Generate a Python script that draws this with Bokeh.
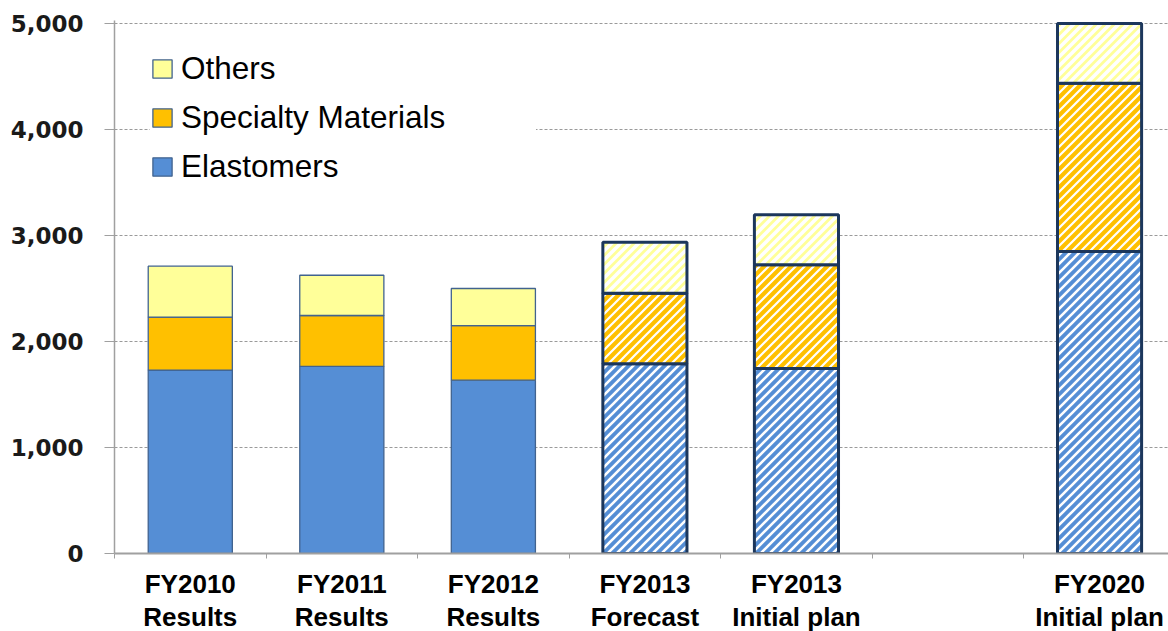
from urllib.parse import quote
from bokeh.plotting import figure
from bokeh.models import (Range1d, FixedTicker, NumeralTickFormatter, Legend, LegendItem,
                          ColumnDataSource, ImageURLTexture)
from bokeh.core.properties import value
from bokeh.embed import file_html
from bokeh.resources import INLINE

# ---- data ----
categories = ["FY2010\nResults", "FY2011\nResults", "FY2012\nResults",
              "FY2013\nForecast", "FY2013\nInitial plan", "", "FY2020\nInitial plan"]
result_cats = ["FY2010\nResults", "FY2011\nResults", "FY2012\nResults"]
plan_cats = ["FY2013\nForecast", "FY2013\nInitial plan", "FY2020\nInitial plan"]
series = ["Elastomers", "Specialty Materials", "Others"]
elastomers_res = [1730, 1765, 1635]
specialty_res = [500, 480, 515]
others_res = [480, 380, 350]
elastomers_plan = [1790, 1745, 2850]
specialty_plan = [665, 980, 1585]
others_plan = [480, 470, 565]
y_ticks = [0, 1000, 2000, 3000, 4000, 5000]

colors = ["#558ed5", "#ffc000", "#ffff99"]
stripe_w = [2.6, 2.2, 3.6]


def stripe_texture(color, w, n=9):
    svg = ('<svg xmlns="http://www.w3.org/2000/svg" width="%d" height="%d">'
           '<rect width="%d" height="%d" fill="%s"/>'
           '<path d="M-2,2 L2,-2 M0,%d L%d,0 M%d,%d L%d,%d" stroke="white" stroke-width="%.1f"/>'
           '</svg>') % (n, n, n, n, color, n, n, n - 2, n + 2, n + 2, n - 2, w)
    return ImageURLTexture(url="data:image/svg+xml;charset=utf-8," + quote(svg), repetition="repeat")


textures = {"tex%d" % i: stripe_texture(c, w) for i, (c, w) in enumerate(zip(colors, stripe_w))}

res_src = ColumnDataSource(dict(
    x=[categories.index(c) for c in result_cats],
    Elastomers=elastomers_res, **{"Specialty Materials": specialty_res}, Others=others_res))
plan_src = ColumnDataSource(dict(
    x=[categories.index(c) for c in plan_cats],
    Elastomers=elastomers_plan, **{"Specialty Materials": specialty_plan}, Others=others_plan))

p = figure(width=1168, height=643, output_backend="svg", toolbar_location=None,
           x_range=Range1d(-0.5, 6.455), y_range=Range1d(0, 5028),
           min_border_left=114, min_border_right=0, min_border_top=20, min_border_bottom=90)
p.outline_line_color = None
p.background_fill_color = "white"
p.border_fill_color = "white"

bw = 0.555
r_res = p.vbar_stack(series, x="x", width=bw, source=res_src, fill_color=colors,
                     line_color="#41638f", line_width=1.3)
p.vbar_stack(series, x="x", width=bw, source=plan_src, fill_color=colors,
             hatch_pattern=[value("tex%d" % i) for i in range(3)], hatch_extra=textures,
             line_color="#1c375c", line_width=3)

# axes
p.xgrid.grid_line_color = None
p.ygrid.grid_line_color = "#9a9a9a"
p.ygrid.grid_line_dash = "3 2"
p.ygrid.grid_line_width = 1
p.ygrid.ticker = FixedTicker(ticks=y_ticks)

ya = p.yaxis[0]
ya.ticker = FixedTicker(ticks=y_ticks)
ya.formatter = NumeralTickFormatter(format="0,0")
ya.axis_line_color = "#a0a0a0"
ya.axis_line_width = 1.5
ya.major_tick_line_color = "#a0a0a0"
ya.major_tick_out = 10
ya.major_tick_in = 0
ya.minor_tick_line_color = None
ya.major_label_standoff = 21
ya.major_label_text_font = "DejaVu Sans"
ya.major_label_text_font_style = "bold"
ya.major_label_text_font_size = "23px"
ya.major_label_text_color = "#1a1a1a"

xa = p.xaxis[0]
centers = list(range(len(categories)))
xa.ticker = FixedTicker(ticks=centers, minor_ticks=[c - 0.5 for c in centers] + [len(categories) - 0.5])
xa.major_label_overrides = {i: c for i, c in enumerate(categories)}
xa.axis_line_color = "#a0a0a0"
xa.axis_line_width = 2
xa.major_tick_line_color = None
xa.minor_tick_line_color = "#a0a0a0"
xa.minor_tick_out = 5
xa.minor_tick_in = 0
xa.major_label_standoff = 9
xa.major_label_text_font = "Liberation Sans"
xa.major_label_text_font_style = "bold"
xa.major_label_text_font_size = "26px"
xa.major_label_text_color = "#000000"
xa.major_label_text_line_height = 1.1

legend = Legend(items=[LegendItem(label=s, renderers=[r]) for s, r in zip(series[::-1], r_res[::-1])],
                location=(36, 362), orientation="vertical",
                glyph_width=24, glyph_height=23, label_standoff=7, label_height=49,
                label_width=355, spacing=0, padding=5, margin=0,
                label_text_font="Liberation Sans", label_text_font_size="31.5px",
                label_text_color="#000000",
                background_fill_color="white", background_fill_alpha=1.0,
                border_line_color=None)
p.add_layout(legend)

open("out.html", "w").write(file_html(p, INLINE))
